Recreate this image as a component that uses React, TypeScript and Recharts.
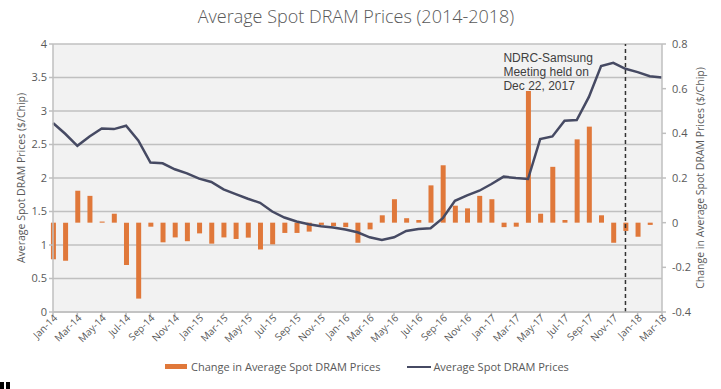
import React from 'react';
import { ComposedChart, Bar, Line, XAxis, YAxis, CartesianGrid, ReferenceLine } from 'recharts';

const months = [
  'Jan-14','Feb-14','Mar-14','Apr-14','May-14','Jun-14','Jul-14','Aug-14','Sep-14','Oct-14','Nov-14','Dec-14',
  'Jan-15','Feb-15','Mar-15','Apr-15','May-15','Jun-15','Jul-15','Aug-15','Sep-15','Oct-15','Nov-15','Dec-15',
  'Jan-16','Feb-16','Mar-16','Apr-16','May-16','Jun-16','Jul-16','Aug-16','Sep-16','Oct-16','Nov-16','Dec-16',
  'Jan-17','Feb-17','Mar-17','Apr-17','May-17','Jun-17','Jul-17','Aug-17','Sep-17','Oct-17','Nov-17','Dec-17',
  'Jan-18','Feb-18','Mar-18',
];

const avgPrice = [
  2.82, 2.66, 2.48, 2.62, 2.74, 2.73, 2.78, 2.56, 2.23, 2.22, 2.13, 2.07,
  1.99, 1.94, 1.83, 1.76, 1.69, 1.63, 1.50, 1.41, 1.35, 1.31, 1.28, 1.26,
  1.23, 1.19, 1.115, 1.075, 1.115, 1.21, 1.24, 1.25, 1.40, 1.66, 1.74, 1.81,
  1.91, 2.02, 2.00, 1.985, 2.58, 2.62, 2.855, 2.865, 3.21, 3.67, 3.72, 3.63,
  3.58, 3.52, 3.50,
];

const priceChange = [
  -0.164, -0.17, 0.143, 0.12, 0.005, 0.04, -0.19, -0.34, -0.018, -0.088, -0.066, -0.083,
  -0.048, -0.094, -0.066, -0.073, -0.067, -0.12, -0.097, -0.046, -0.046, -0.04, -0.01, -0.015,
  -0.02, -0.09, -0.03, 0.033, 0.105, 0.02, 0.012, 0.167, 0.257, 0.076, 0.064, 0.12,
  0.105, -0.02, -0.018, 0.59, 0.04, 0.25, 0.012, 0.373, 0.43, 0.033, -0.09, -0.037,
  -0.063, -0.01, null,
];

const leftTicks = [0, 0.5, 1, 1.5, 2, 2.5, 3, 3.5, 4];
const rightTicks = [-0.4, -0.2, 0, 0.2, 0.4, 0.6, 0.8];
const xTicks = months.map((_, i) => i).filter((i) => i % 2 === 0);
const markerIndex = 47;
const annotation = ['NDRC-Samsung', 'Meeting held on', 'Dec 22, 2017'];

const data = months.map((m, i) => ({ i, month: m, price: avgPrice[i], change: priceChange[i] }));

const FONT = "'Open Sans', 'DejaVu Sans', sans-serif";
const TXT = '#595959';
const ORANGE = '#E0783A';
const NAVY = '#464a63';

const XTick = (props: any) => {
  const { x, y, payload } = props;
  return (
    <g transform={`translate(${x},${y})`}>
      <text x={3} y={4} textAnchor="end" transform="rotate(-45)" fill={TXT} fontSize={10} fontFamily={FONT}>
        {months[payload.value]}
      </text>
    </g>
  );
};

export default function App() {
  return (
    <div style={{ position: 'absolute', left: 0, top: 0, width: 721, height: 389, background: '#fff', fontFamily: FONT }}>
      <div style={{ position: 'absolute', top: 4, left: 0, width: 712, textAlign: 'center', fontSize: 18, color: '#595959', fontWeight: 300 }}>
        Average Spot DRAM Prices (2014-2018)
      </div>
      <ComposedChart width={721} height={389} data={data} margin={{ top: 44, right: 0, bottom: 0, left: 0 }}>
        <CartesianGrid yAxisId="left" vertical={false} stroke="#c0c0c0" strokeWidth={1.5} fill="#f2f2f2" />
        <XAxis
          dataKey="i"
          type="number"
          domain={[0, 50]}
          ticks={xTicks}
          interval={0}
          height={77}
          tickSize={4}
          stroke="#bfbfbf"
          strokeWidth={1.5}
          tick={<XTick />}
        />
        <YAxis
          yAxisId="left"
          orientation="left"
          width={53}
          domain={[0, 4]}
          ticks={leftTicks}
          tickSize={4}
          stroke="#bfbfbf"
          strokeWidth={1.5}
          tick={{ fill: TXT, fontSize: 11, fontFamily: FONT }}
          label={{
            content: () => (
              <text x={22} y={178} transform="rotate(-90 22 178)" textAnchor="middle" dominantBaseline="middle" fill={TXT} fontSize={10.5} fontFamily={FONT}>
                Average Spot DRAM Prices ($/Chip)
              </text>
            ),
          }}
        />
        <YAxis
          yAxisId="right"
          orientation="right"
          width={59}
          domain={[-0.4, 0.8]}
          ticks={rightTicks}
          tickSize={4}
          tickMargin={6}
          stroke="#bfbfbf"
          strokeWidth={1.5}
          tickFormatter={(v: number) => (v === 0 ? '0' : String(Math.round(v * 10) / 10))}
          tick={{ fill: TXT, fontSize: 11, fontFamily: FONT }}
          label={{
            content: () => (
              <text x={701} y={178} transform="rotate(-90 701 178)" textAnchor="middle" dominantBaseline="middle" fill={TXT} fontSize={10.5} fontFamily={FONT}>
                Change in Average Spot DRAM Prices ($/Chip)
              </text>
            ),
          }}
        />
        <Bar yAxisId="right" dataKey="change" fill={ORANGE} barSize={5} isAnimationActive={false} />
        <Line yAxisId="left" dataKey="price" stroke={NAVY} strokeWidth={2.5} dot={false} isAnimationActive={false} />
        <ReferenceLine
          yAxisId="left"
          x={markerIndex}
          stroke="#333"
          strokeWidth={1.5}
          strokeDasharray="4 3"
          label={{
            content: (p: any) => {
              const vx = p.viewBox ? p.viewBox.x : 0;
              return (
                <g>
                  {annotation.map((t, k) => (
                    <text key={k} x={vx - 122} y={62 + k * 14} fill="#404040" fontSize={12} fontFamily="'Liberation Sans', Arial, sans-serif">{t}</text>
                  ))}
                </g>
              );
            },
          }}
        />
      </ComposedChart>
      <div style={{ position: 'absolute', top: 359, left: 165, display: 'flex', alignItems: 'center', fontSize: 11, color: TXT, whiteSpace: 'nowrap' }}>
        <span style={{ display: 'inline-block', width: 22, height: 5, background: ORANGE, marginRight: 4 }} />
        <span>Change in Average Spot DRAM Prices</span>
        <span style={{ display: 'inline-block', width: 24, height: 2, background: NAVY, marginLeft: 27, marginRight: 2 }} />
        <span>Average Spot DRAM Prices</span>
      </div>
      <div style={{ position: 'absolute', top: 382, left: 0, width: 4, height: 7, background: '#000' }} />
      <div style={{ position: 'absolute', top: 382, left: 6, width: 4, height: 7, background: '#000' }} />
    </div>
  );
}
